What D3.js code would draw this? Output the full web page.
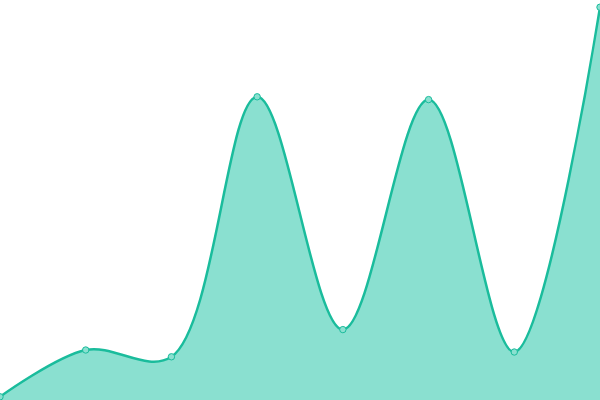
<!DOCTYPE html>
<html>
<head>
<meta charset="utf-8">
<script src="https://cdn.jsdelivr.net/npm/d3@7"></script>
<style>
  html, body { margin: 0; padding: 0; background: #fff; }
  #chart { width: 600px; height: 400px; }
</style>
</head>
<body>
<div id="chart"></div>
<script>
// values
const categories = ["0", "1", "2", "3", "4", "5", "6", "7"];
const values = [0.8, 12.5, 10.8, 75.8, 17.6, 75.1, 12, 98.2];

const width = 600, height = 400;
const lineColor = "#1abc9c";
const fillColor = "#8ae0d0";

const svg = d3.select("#chart").append("svg")
  .attr("width", width)
  .attr("height", height);

const x = d3.scalePoint()
  .domain(categories)
  .range([0, width]);

const y = d3.scaleLinear()
  .domain([0, 100])
  .range([height, 0]);

const data = categories.map((c, i) => ({ c: c, v: values[i] }));

const curve = d3.curveCatmullRom.alpha(0.5);

const area = d3.area()
  .x(d => x(d.c))
  .y0(height)
  .y1(d => y(d.v))
  .curve(curve);

const line = d3.line()
  .x(d => x(d.c))
  .y(d => y(d.v))
  .curve(curve);

svg.append("path")
  .datum(data)
  .attr("d", area)
  .attr("fill", fillColor);

svg.append("path")
  .datum(data)
  .attr("d", line)
  .attr("fill", "none")
  .attr("stroke", lineColor)
  .attr("stroke-width", 2.5);

// markers
svg.selectAll(".dot")
  .data(data)
  .enter()
  .append("circle")
  .attr("class", "dot")
  .attr("cx", d => x(d.c))
  .attr("cy", d => y(d.v))
  .attr("r", 3.2)
  .attr("fill", fillColor)
  .attr("stroke", lineColor)
  .attr("stroke-width", 1);
</script>
</body>
</html>
